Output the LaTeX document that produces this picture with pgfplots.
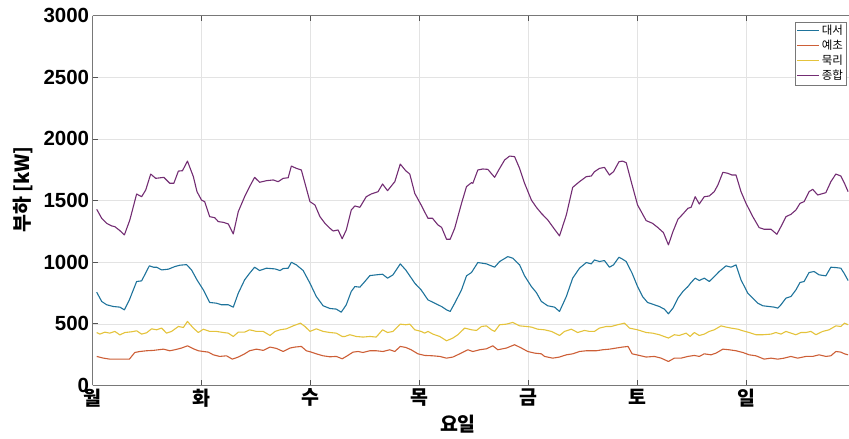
\documentclass[border=0pt]{standalone}
\usepackage{fontspec}
\usepackage{pgfplots}
\pgfplotsset{compat=1.18}
\setmainfont{Liberation Sans}
\newfontfamily\kr{Noto Sans CJK KR}
\definecolor{cBlue}{RGB}{30,115,155}
\definecolor{cOrange}{RGB}{205,95,55}
\definecolor{cYellow}{RGB}{228,195,60}
\definecolor{cPurple}{RGB}{115,45,115}
\definecolor{cAxis}{RGB}{120,120,120}
\begin{document}
\begin{tikzpicture}
\begin{axis}[
  scale only axis,
  width=757pt, height=370pt,
  xmin=0, xmax=166.7, ymin=0, ymax=3000,
  axis x line*=box, axis y line*=left,
  axis line style={cAxis, line width=0.8pt},
  xtick={0,24,48,72,96,120,144},
  xticklabels={월,화,수,목,금,토,일},
  ytick={0,500,1000,1500,2000,2500,3000},
  tick align=inside, xtick pos=both, ytick pos=left,
  major tick length=5pt,
  tick style={cAxis!70!black, line width=0.6pt},
  grid=major,
  major grid style={black!11, line width=0.5pt},
  /pgf/number format/assume math mode=true,
  /pgf/number format/1000 sep={},
  yticklabel style={font=\fontsize{20.5}{21}\selectfont\bfseries},
  xticklabel style={font=\fontsize{19.5}{20}\kr\bfseries},
  xlabel={요일}, ylabel={부하 [kW]},
  every axis x label/.style={at={(axis description cs:0.483,-0.105)}, anchor=center, font=\fontsize{19.5}{20}\kr\bfseries},
  every axis y label/.style={at={(axis description cs:-0.0925,0.53)}, anchor=center, rotate=90, font=\fontsize{19.5}{20}\kr\bfseries},
  legend style={at={(rel axis cs:0.997,0.984)}, anchor=north east, font=\fontsize{11.5}{12}\kr, draw=cAxis, line width=0.5pt, inner sep=1.5pt, row sep=0pt, cells={anchor=west}},
  legend image code/.code={\draw[#1] (0pt,0pt) -- (22pt,0pt);},
  every axis plot/.append style={line width=1.1pt, line join=round},
]
\coordinate (LL) at (rel axis cs:0,0);
\coordinate (UR) at (rel axis cs:1,1);
% 대서
\addplot[cBlue] coordinates {
(0.9,756)(2.0,681)(3.1,654)(4.6,640)(6.0,635)(7.0,613)(8.1,694)(9.7,843)(10.8,848)(12.5,970)(13.4,959)(14.1,959)(15.2,937)(16.7,943)(18.1,964)(19.2,975)(20.7,980)(21.8,937)(23.0,856)(24.4,775)(25.8,673)(27.3,667)(28.4,654)(29.9,654)(31.0,635)(32.1,748)(33.5,856)(34.6,910)(35.7,959)(36.8,932)(38.3,951)(40.2,945)(41.3,932)(42.0,948)(43.1,951)(43.8,999)(44.9,978)(46.4,932)(47.9,829)(49.3,721)(50.8,646)(52.3,624)(53.7,619)(54.8,594)
(55.9,654)(57.0,762)(57.8,802)(58.9,797)(60.0,843)(61.1,891)(62.5,897)(63.9,902)(65.0,870)(66.2,897)(67.8,986)(69.0,937)(69.9,889)(71.0,829)(72.4,775)(73.9,694)(75.4,667)(76.9,640)(78.0,613)(78.8,600)(79.8,667)(81.3,775)(82.4,889)(83.5,916)(84.9,997)(86.8,986)(88.6,959)(89.7,1005)(91.5,1045)(92.6,1032)(94.1,978)(95.2,889)(96.7,802)(97.8,753)(98.9,681)(100.3,646)(101.8,635)(102.9,600)(104.4,721)(105.8,870)(107.3,951)(108.8,997)(109.9,986)
(110.6,1018)(111.7,1005)(112.8,1013)(113.9,959)(114.8,978)(116.0,1040)(116.8,1024)(117.6,1005)(118.9,910)(120.1,802)(121.2,721)(122.3,673)(123.8,654)(124.9,640)(126.0,619)(126.9,581)(127.9,627)(129.0,708)(130.1,762)(131.2,802)(131.9,835)(132.8,870)(133.7,851)(134.8,870)(135.9,843)(137.0,883)(138.1,924)(139.6,970)(140.7,959)(141.8,978)(142.9,856)(144.4,748)(145.5,708)(146.6,667)(147.7,646)(149.1,640)(150.2,635)(151.0,627)(151.7,654)(152.8,708)(153.9,721)(155.0,775)(155.9,835)(156.8,843)(157.9,916)(159.0,924)(160.1,897)(161.6,889)(162.7,959)(163.8,956)(164.9,951)(165.7,905)(166.5,851)
};
\addlegendentry{대서}
% 예초
\addplot[cOrange] coordinates {
(0.9,235)(2.4,221)(3.8,213)(5.3,213)(6.8,213)(8.1,213)(9.3,267)(10.4,275)(11.9,281)(13.4,284)(14.5,289)(15.6,294)(17.0,281)(18.1,289)(19.6,303)(20.9,321)(22.2,297)(23.3,281)(24.4,275)(25.5,270)(26.6,248)(28.0,235)(29.5,240)(30.8,213)(32.1,230)(33.5,256)(34.6,281)(36.1,294)(37.6,284)(39.1,311)(40.5,300)(42.0,275)(43.5,303)(44.6,311)(46.0,316)(47.1,281)(48.2,270)(49.3,256)(50.8,240)(52.3,232)(53.7,235)(55.0,216)
(55.9,235)(57.4,270)(58.5,275)(59.6,267)(61.1,281)(62.5,281)(64.0,275)(65.5,289)(66.6,275)(67.8,316)(69.0,308)(70.2,289)(71.7,256)(73.2,243)(75.0,240)(76.5,235)(78.0,221)(79.4,230)(80.9,256)(82.7,289)(83.8,275)(85.3,289)(86.8,297)(88.2,321)(89.3,289)(91.2,303)(93.0,330)(94.5,303)(95.9,275)(97.4,262)(98.9,256)(99.6,235)(101.4,221)(102.9,230)(104.4,248)(105.8,256)(107.3,275)(108.8,281)(110.2,281)
(111.0,281)(112.4,289)(113.9,294)(115.4,303)(116.8,311)(118.0,316)(118.9,256)(120.5,243)(122.0,230)(123.8,235)(125.3,221)(126.9,194)(128.2,221)(129.7,221)(131.2,235)(132.6,243)(133.7,235)(134.8,256)(136.3,248)(137.4,262)(138.9,294)(140.3,289)(141.8,281)(143.3,267)(144.7,248)(146.2,240)(148.0,213)(149.5,221)(151.0,213)(152.4,221)(153.9,235)(155.4,221)(157.2,235)(158.7,235)(160.1,248)(161.6,235)(162.7,240)(163.8,275)(164.9,270)(165.7,256)(166.5,248)
};
\addlegendentry{예초}
% 묵리
\addplot[cYellow] coordinates {
(0.9,429)(1.6,416)(2.7,432)(3.8,424)(4.9,438)(6.0,410)(7.1,429)(8.6,435)(9.7,443)(10.8,416)(11.9,427)(13.0,459)(14.1,451)(15.2,465)(16.3,424)(17.4,438)(18.9,478)(20.0,470)(20.9,519)(22.2,465)(23.3,429)(24.4,456)(25.8,438)(27.3,438)(28.8,429)(29.9,424)(31.0,397)(32.1,432)(33.5,432)(34.6,451)(36.1,438)(37.6,438)(39.1,405)(40.2,438)(41.3,451)(42.7,459)(44.2,483)(45.8,505)(46.8,478)(47.9,438)(49.3,459)(50.8,438)(52.3,429)(53.7,424)(55.0,397)
(55.6,397)(56.7,411)(58.1,397)(59.6,392)(61.1,397)(62.5,392)(63.9,451)(65.0,429)(66.2,438)(67.8,497)(69.0,492)(69.9,497)(71.0,451)(72.4,438)(73.2,424)(73.9,438)(75.0,416)(76.5,397)(78.0,362)(79.4,384)(80.5,411)(82.0,465)(83.5,451)(84.6,446)(85.7,478)(86.8,483)(87.9,451)(88.6,438)(89.7,492)(91.2,497)(92.6,511)(94.1,483)(95.6,478)(96.7,473)(98.1,456)(99.6,451)(101.1,438)(102.9,405)(104.0,438)(105.5,456)(106.9,429)(108.4,446)(109.5,438)
(110.6,438)(111.7,465)(113.2,478)(114.3,478)(115.7,492)(117.2,505)(118.3,465)(120.1,451)(122.0,429)(123.4,424)(124.9,411)(126.9,384)(128.2,411)(129.3,405)(130.8,424)(131.7,397)(132.6,429)(133.7,405)(134.8,416)(135.9,438)(137.0,451)(138.5,483)(139.6,473)(140.7,465)(142.2,456)(143.3,443)(144.7,429)(146.2,411)(147.7,411)(149.5,416)(150.6,429)(151.7,416)(152.8,438)(153.9,424)(155.0,411)(156.1,429)(157.2,429)(158.3,438)(159.4,411)(160.9,438)(162.3,451)(163.8,483)(164.9,478)(165.7,505)(166.5,492)
};
\addlegendentry{묵리}
% 종합
\addplot[cPurple] coordinates {
(0.9,1429)(2.0,1356)(3.1,1315)(4.2,1294)(4.9,1288)(6.0,1256)(7.0,1221)(8.2,1342)(9.7,1553)(10.8,1531)(11.7,1585)(12.8,1715)(13.9,1680)(15.7,1688)(17.0,1640)(17.9,1640)(18.9,1739)(19.8,1742)(20.9,1820)(22.2,1694)(23.0,1572)(24.0,1504)(24.7,1491)(25.8,1369)(26.9,1361)(27.7,1329)(28.8,1323)(29.9,1310)(31.0,1229)(32.1,1410)(33.5,1531)(34.6,1613)(35.7,1688)(36.8,1648)(38.3,1661)(39.8,1667)(40.9,1653)(42.0,1680)(43.1,1685)(43.8,1780)(44.9,1761)(46.0,1748)(47.9,1491)(49.0,1464)(50.1,1369)(51.2,1315)(52.3,1275)(53.0,1253)(54.1,1261)
(55.0,1190)(55.9,1261)(57.0,1423)(57.8,1456)(58.9,1445)(60.3,1531)(61.4,1553)(62.9,1572)(63.9,1634)(65.0,1580)(66.6,1653)(67.8,1796)(69.0,1742)(69.9,1715)(71.0,1558)(72.4,1464)(73.9,1356)(74.9,1356)(76.1,1302)(76.9,1283)(78.0,1186)(78.8,1186)(79.8,1275)(81.3,1477)(82.4,1613)(83.5,1645)(83.8,1640)(84.9,1748)(86.0,1756)(87.1,1753)(88.6,1688)(89.5,1748)(90.8,1829)(91.9,1861)(93.0,1856)(94.1,1761)(95.2,1640)(96.7,1504)(97.8,1445)(98.9,1396)(100.3,1343)(101.8,1267)(102.9,1213)(104.4,1383)(105.8,1607)(107.3,1653)(108.8,1694)(109.9,1699)
(110.6,1734)(111.7,1761)(112.8,1769)(113.9,1707)(114.8,1734)(116.0,1815)(116.8,1820)(117.6,1807)(118.9,1626)(120.1,1464)(122.0,1337)(123.4,1315)(124.5,1283)(125.8,1240)(126.9,1140)(127.9,1248)(129.0,1348)(130.1,1391)(131.2,1437)(131.9,1445)(132.8,1531)(133.7,1472)(134.8,1531)(135.9,1537)(137.0,1572)(137.8,1626)(138.9,1729)(140.0,1721)(140.9,1707)(141.8,1707)(142.9,1572)(144.0,1477)(145.5,1369)(146.9,1280)(148.0,1267)(149.5,1267)(150.8,1226)(151.7,1288)(152.8,1369)(153.9,1388)(155.0,1423)(155.9,1477)(156.8,1491)(157.9,1572)(158.7,1591)(159.8,1545)(161.6,1564)(162.7,1653)(163.8,1715)(164.9,1699)(165.7,1640)(166.5,1572)
};
\addlegendentry{종합}
\end{axis}
\pgfresetboundingbox
\useasboundingbox ([xshift=-92.7pt,yshift=-53.3pt]LL) rectangle ([yshift=15.7pt]UR);
\end{tikzpicture}
\end{document}
